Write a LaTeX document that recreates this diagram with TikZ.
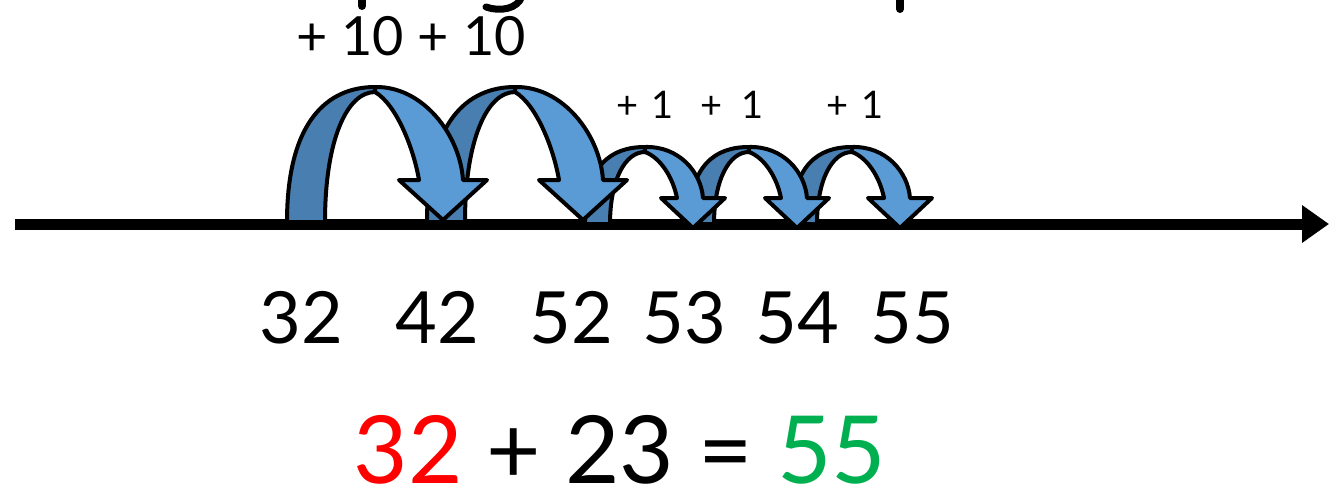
\documentclass[tikz,border=0pt]{standalone}
\usepackage{fontspec}
\setmainfont{Lato}
\usetikzlibrary{arrows.meta}
\definecolor{hopdark}{RGB}{72,126,176}
\definecolor{hoplight}{RGB}{91,155,213}
\definecolor{eqgreen}{RGB}{0,176,80}
\tikzset{
  hopline/.style={draw=black, line width=4pt, line join=round},
  bighop/.pic={
    \path[hopline, fill=hopdark] (-156,222) .. controls (-156,122) and (-116,87) .. (-68,87)
      -- (-68,92) .. controls (-96,92) and (-118,140) .. (-118,222) -- cycle;
    \path[hopline, fill=hoplight] (-68,92) -- (-68,87) .. controls (-20,86) and (17,135) .. (20,180)
      -- (44,180) -- (0,220) -- (-44,180) -- (-24,180)
      .. controls (-29,150) and (-46,105) .. (-68,92) -- cycle;
  },
  smallhop/.pic={
    \path[hopline, fill=hopdark] (-108,224) .. controls (-108,165) and (-82,147) .. (-48,147)
      -- (-48,152) .. controls (-68,152) and (-83,180) .. (-83,224) -- cycle;
    \path[hopline, fill=hoplight] (-48,152) -- (-48,147) .. controls (-14,146) and (8,172) .. (10,198)
      -- (32,198) -- (0,228) -- (-32,198) -- (-16,198)
      .. controls (-20,178) and (-32,158) .. (-48,152) -- cycle;
  },
  numlabel/.style={anchor=base, inner sep=0pt, font=\fontsize{72}{72}\selectfont},
  steplabel/.style={anchor=base, inner sep=0pt, font=\fontsize{38}{38}\selectfont},
  frag/.style={line width=8pt, line cap=round}
}
\begin{document}
\begin{tikzpicture}[x=1pt, y=-1pt]
\useasboundingbox (0,0) rectangle (1329,501);
% fragments of cropped title
\draw[frag] (362,-6) -- (362,6);
\draw[frag] (900,-6) -- (900,9);
\draw[line width=7pt, line cap=round] (522,-4) .. controls (518,9) and (500,12) .. (486,7);
% number line
\coordinate (lineL) at (15,224);
\coordinate (lineR) at (1329,224);
\draw[line width=11pt, -{Triangle[length=27pt,width=36pt]}] (lineL) -- (lineR);
% hops (right to left so the left ones sit in front)
\pic at (900,0) {smallhop};
\pic at (797,0) {smallhop};
\pic at (693,0) {smallhop};
\pic at (583,0) {bighop};
\pic at (443,0) {bighop};
% hop labels
\node[anchor=base, inner sep=0pt, font=\fontsize{54}{54}\selectfont] (tens) at (411,55) {+ 10 + 10};
\node[steplabel] (one1) at (645,118) {+\,\,1};
\node[steplabel] (one2) at (732,118) {+\,\,\,1};
\node[steplabel] (one3) at (855,118) {+\,\,1};
% numbers
\node[numlabel] (n32) at (301,343) {32};
\node[numlabel] (n42) at (437,343) {42};
\node[numlabel] (n52) at (571,343) {52};
\node[numlabel] (n53) at (684,343) {53};
\node[numlabel] (n54) at (797,343) {54};
\node[numlabel] (n55) at (912,343) {55};
% equation
\node[anchor=base, inner sep=0pt, text depth=0pt, font=\fontsize{94}{94}\selectfont] (eq) at (620,483)
  {{\color{red}32} + 23 = {\color{eqgreen}55}};
\end{tikzpicture}
\end{document}
